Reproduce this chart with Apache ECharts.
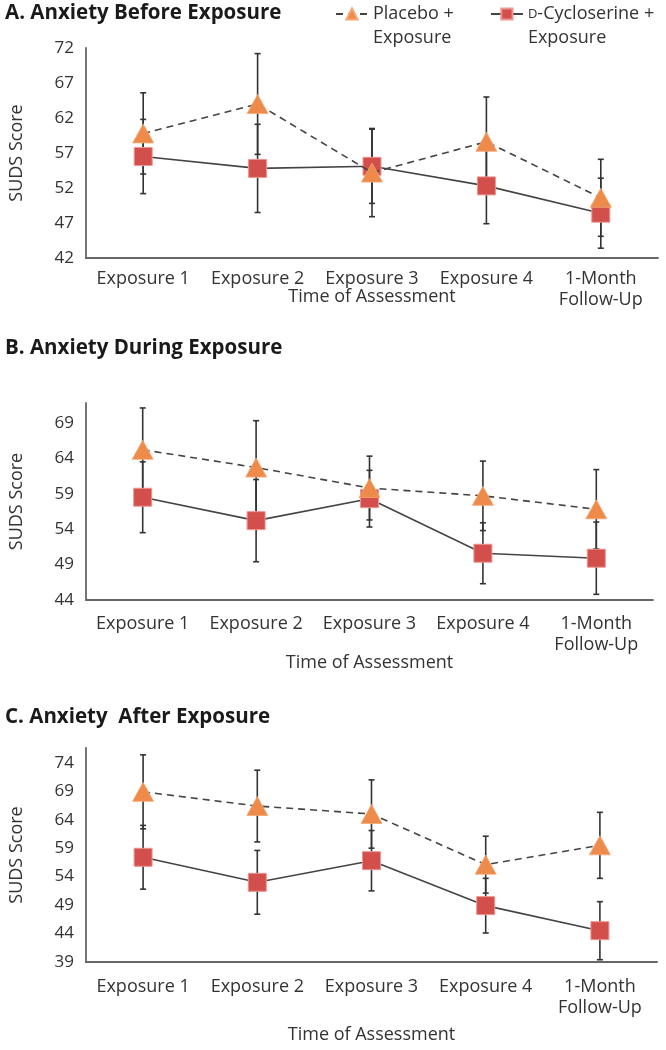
<!DOCTYPE html>
<html>
<head>
<meta charset="utf-8">
<script src="https://cdn.jsdelivr.net/npm/echarts@6/dist/echarts.min.js"></script>
<style>
  html, body { margin: 0; padding: 0; background: #fff; }
  #chart { width: 666px; height: 1050px; }
</style>
</head>
<body>
<div id="chart"></div>
<script>
const categories = ['Exposure 1', 'Exposure 2', 'Exposure 3', 'Exposure 4', '1-Month\nFollow-Up'];

// A. before exposure
const placeboBefore = [59.8, 64.0, 54.2, 58.6, 50.6];
const placeboBeforeErr = [5.8, 7.2, 6.3, 6.4, 5.5];
const dcsBefore = [56.5, 54.8, 55.1, 52.3, 48.4];
const dcsBeforeErr = [5.3, 6.3, 5.3, 5.4, 5.0];
const ticksBefore = [42, 47, 52, 57, 62, 67, 72];

// B. during exposure
const placeboDuring = [65.2, 62.7, 59.8, 58.7, 56.8];
const placeboDuringErr = [5.9, 6.6, 4.5, 4.9, 5.6];
const dcsDuring = [58.5, 55.2, 58.3, 50.6, 49.9];
const dcsDuringErr = [5.0, 5.8, 4.0, 4.3, 5.1];
const ticksDuring = [44, 49, 54, 59, 64, 69];

// C. after exposure
const placeboAfter = [68.9, 66.4, 65.0, 56.1, 59.5];
const placeboAfterErr = [6.5, 6.3, 6.0, 5.0, 5.8];
const dcsAfter = [57.4, 53.0, 56.8, 48.9, 44.5];
const dcsAfterErr = [5.6, 5.6, 5.3, 4.8, 5.1];
const ticksAfter = [39, 44, 49, 54, 59, 64, 69, 74];

const FONT = 'Open Sans';
const PLACEBO = 'Placebo + Exposure';
const DCS = 'D-Cycloserine + Exposure';

let myChart = echarts.init(document.getElementById('chart'));

function errData(vals, errs) {
  return vals.map((v, i) => [i, v - errs[i], v + errs[i]]);
}

function renderErr(params, api) {
  const x = api.value(0);
  const lo = api.coord([x, api.value(1)]);
  const hi = api.coord([x, api.value(2)]);
  const style = { stroke: '#333', lineWidth: 1.6 };
  return {
    type: 'group',
    children: [
      { type: 'line', shape: { x1: lo[0], y1: lo[1], x2: hi[0], y2: hi[1] }, style },
      { type: 'line', shape: { x1: hi[0] - 3, y1: hi[1], x2: hi[0] + 3, y2: hi[1] }, style },
      { type: 'line', shape: { x1: lo[0] - 3, y1: lo[1], x2: lo[0] + 3, y2: lo[1] }, style }
    ]
  };
}

const panels = [
  { p: placeboBefore, pe: placeboBeforeErr, d: dcsBefore, de: dcsBeforeErr, ticks: ticksBefore, min: 42, max: 72, gap: 30, margin: 10 },
  { p: placeboDuring, pe: placeboDuringErr, d: dcsDuring, de: dcsDuringErr, ticks: ticksDuring, min: 44, max: 71.8, gap: 54, margin: 13 },
  { p: placeboAfter, pe: placeboAfterErr, d: dcsAfter, de: dcsAfterErr, ticks: ticksAfter, min: 39, max: 76.6, gap: 64, margin: 14 }
];

const grids = [
  { left: 85, top: 48, width: 573, height: 210 },
  { left: 84, top: 403, width: 569, height: 197 },
  { left: 86, top: 748, width: 571, height: 214 }
];

const xAxes = panels.map((pn, i) => ({
  type: 'category',
  gridIndex: i,
  data: categories,
  name: 'Time of Assessment',
  nameLocation: 'middle',
  nameGap: pn.gap,
  nameMoveOverlap: false,
  nameTextStyle: { fontFamily: FONT, fontSize: 18, color: '#333' },
  axisLine: { lineStyle: { color: '#666', width: 1.8 } },
  axisTick: { show: false },
  axisLabel: { fontFamily: FONT, fontSize: 18, color: '#333', margin: pn.margin, lineHeight: 21, interval: 0 }
}));

const yAxes = panels.map((pn, i) => ({
  type: 'value',
  gridIndex: i,
  min: pn.min,
  max: pn.max,
  name: 'SUDS Score',
  nameLocation: 'middle',
  nameGap: 60,
  nameRotate: 90,
  nameMoveOverlap: false,
  nameTextStyle: { fontFamily: FONT, fontSize: 18, color: '#333' },
  splitLine: { show: false },
  axisLine: { show: true, lineStyle: { color: '#666', width: 1.8 } },
  axisTick: { show: false },
  axisLabel: { customValues: pn.ticks, fontFamily: FONT, fontSize: 17, color: '#333', margin: 12 }
}));

const series = [];
panels.forEach((pn, i) => {
  series.push({
    type: 'custom', xAxisIndex: i, yAxisIndex: i, z: 1,
    renderItem: renderErr, data: errData(pn.p, pn.pe), silent: true
  });
  series.push({
    type: 'custom', xAxisIndex: i, yAxisIndex: i, z: 1,
    renderItem: renderErr, data: errData(pn.d, pn.de), silent: true
  });
  series.push({
    name: PLACEBO, type: 'line', xAxisIndex: i, yAxisIndex: i, z: 3,
    data: pn.p,
    symbol: 'triangle', symbolSize: [21, 19],
    lineStyle: { color: '#444', width: 1.6, type: [7, 5] },
    itemStyle: { color: '#EE8A4A', borderColor: '#F4A774', borderWidth: 0.8 }
  });
  series.push({
    name: DCS, type: 'line', xAxisIndex: i, yAxisIndex: i, z: 2,
    data: pn.d,
    symbol: 'rect', symbolSize: 18,
    lineStyle: { color: '#444', width: 1.6 },
    itemStyle: { color: '#D24F4C', borderColor: '#EC9592', borderWidth: 1 }
  });
});

let option = {
  animation: false,
  title: [
    { text: 'A. Anxiety Before Exposure', left: 5, top: 3, padding: 0 },
    { text: 'B. Anxiety During Exposure', left: 5, top: 338, padding: 0 },
    { text: 'C. Anxiety  After Exposure', left: 5, top: 707, padding: 0 }
  ].map(t => Object.assign(t, { textStyle: { fontFamily: FONT, fontSize: 20.5, fontWeight: 'bold', color: '#1a1a1a' } })),
  legend: {
    data: [PLACEBO, DCS],
    left: 335,
    top: -22,
    padding: 0,
    itemGap: 36,
    itemWidth: 32,
    itemHeight: 14,
    formatter: function (name) {
      if (name === PLACEBO) return '{t| }\n{t|Placebo +}\n{t|Exposure}';
      return '{t| }\n{sc|D}{t|-Cycloserine +}\n{t|Exposure}';
    },
    textStyle: {
      fontFamily: FONT, fontSize: 18, color: '#333', lineHeight: 24,
      rich: {
        t: { fontFamily: FONT, fontSize: 18, color: '#333', lineHeight: 24 },
        sc: { fontFamily: FONT, fontSize: 13, color: '#333', lineHeight: 24 }
      }
    }
  },
  grid: grids,
  xAxis: xAxes,
  yAxis: yAxes,
  series: series
};
myChart.setOption(option);
</script>
</body>
</html>
